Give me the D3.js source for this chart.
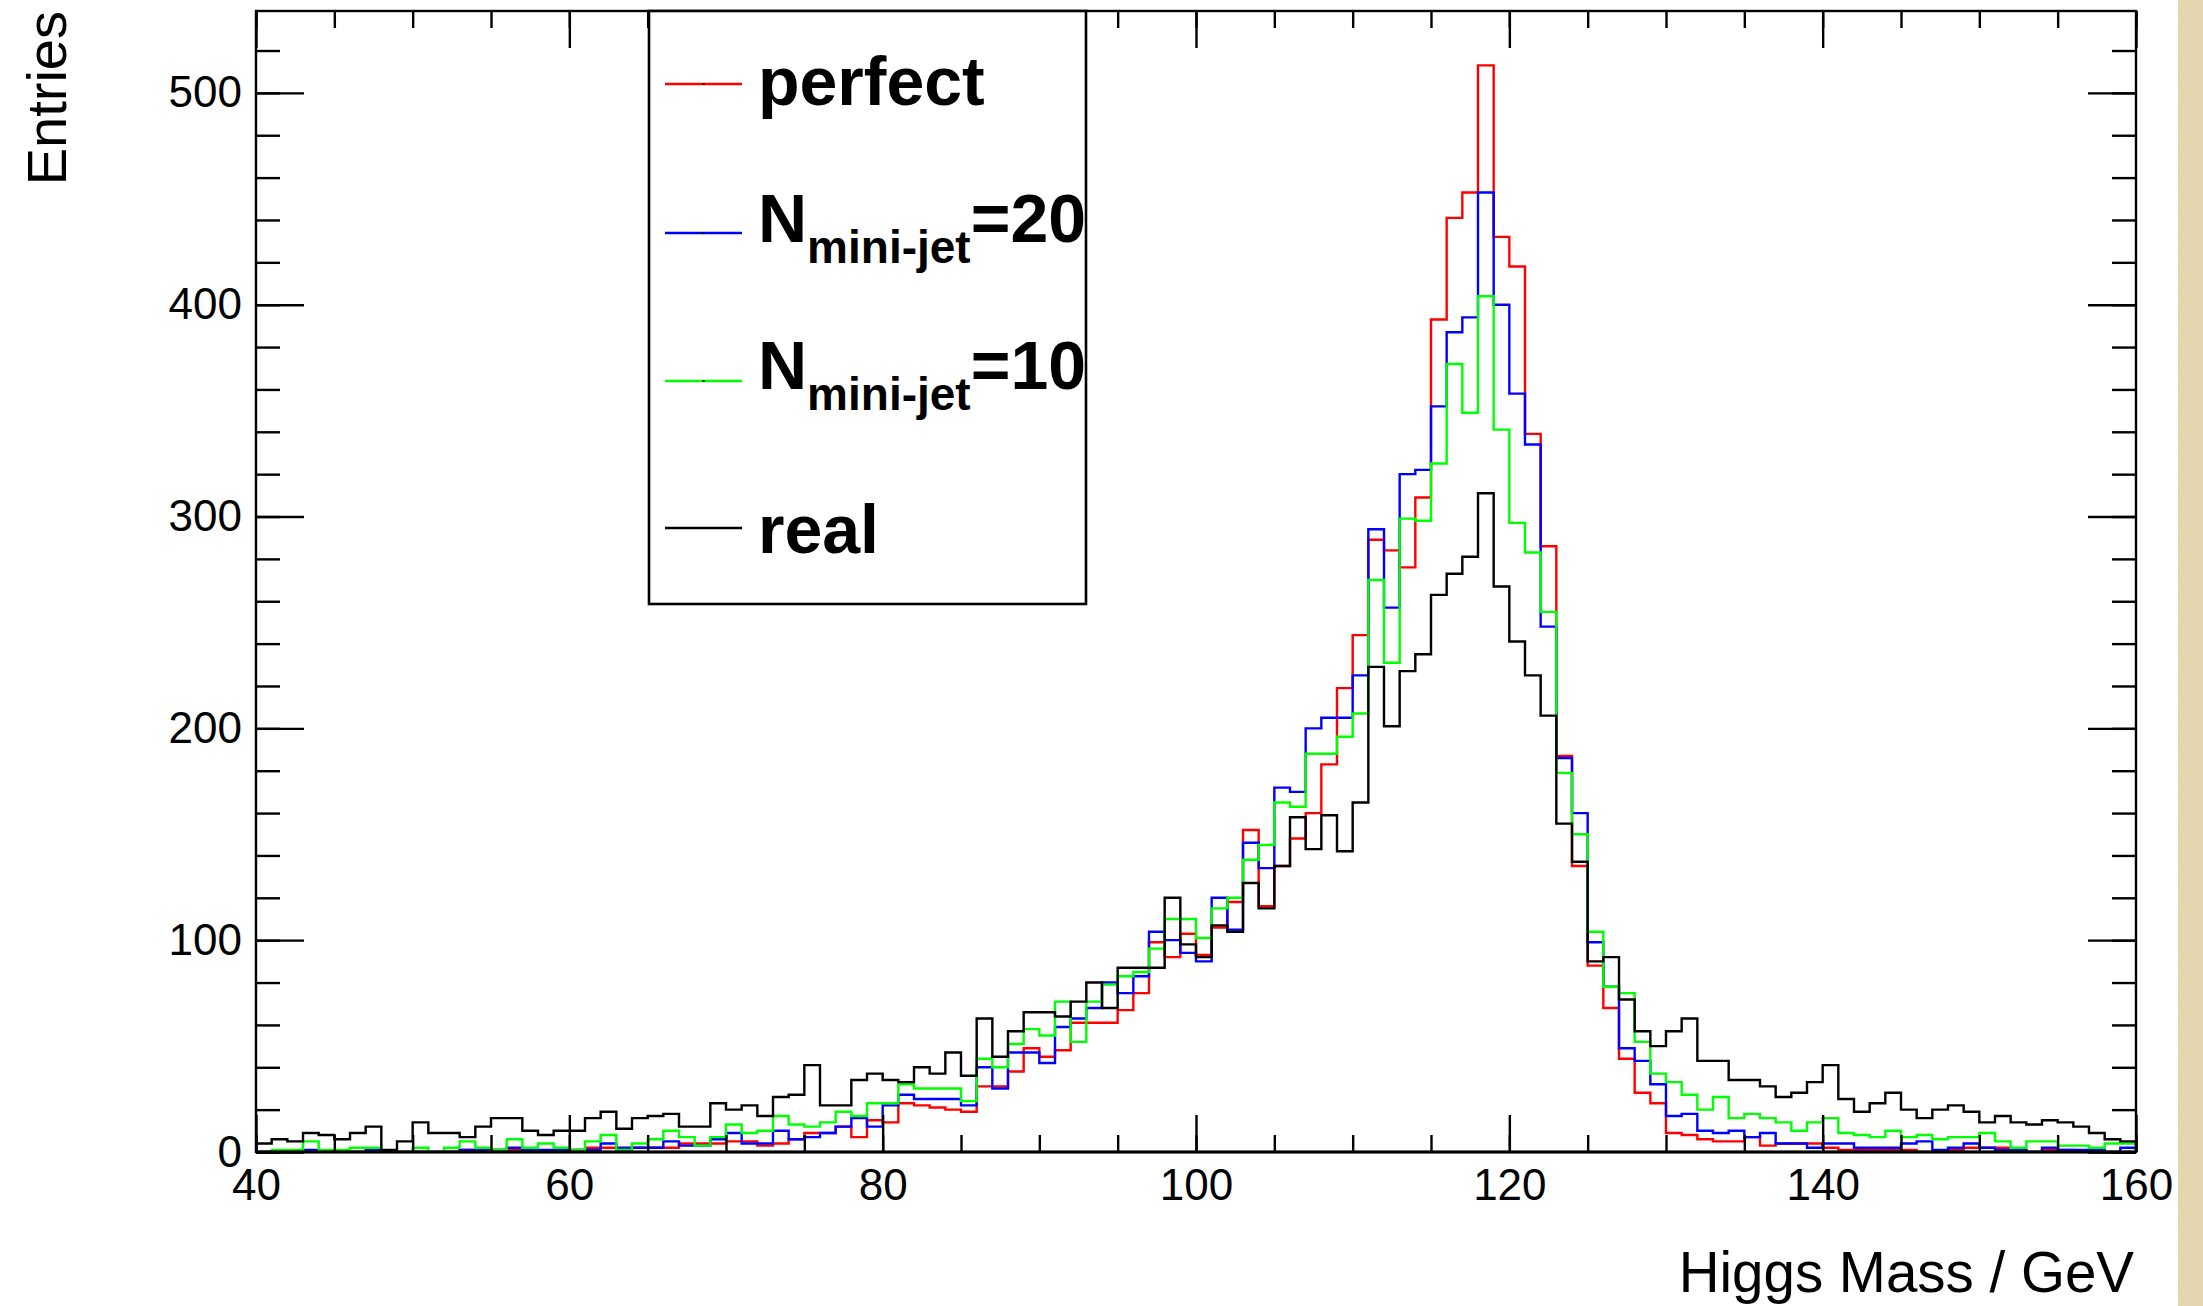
<!DOCTYPE html>
<html>
<head>
<meta charset="utf-8">
<script src="https://cdn.jsdelivr.net/npm/d3@7"></script>
<style>
  html, body { margin: 0; padding: 0; background: #fff; }
  svg { display: block; }
</style>
</head>
<body>
<svg id="chart" width="2203" height="1306"></svg>
<script>
// Reconstructed Higgs mass, 1 GeV bins from 40 to 160 GeV
const massLow = 40;
const massHigh = 160;
const binWidth = 1;

const perfect = [
  0, 0, 0, 0, 0, 0, 0, 0, 0, 0,
  0, 0, 0, 1, 1, 1, 1, 1, 0, 0,
  1, 2, 2, 1, 2, 2, 2, 4, 4, 4,
  5, 5, 3, 4, 6, 9, 9, 12, 7, 15,
  14, 23, 22, 21, 20, 19, 31, 31, 38, 49,
  45, 48, 61, 61, 61, 67, 75, 99, 92, 103,
  93, 106, 118, 152, 116, 135, 148, 160, 183, 219,
  244, 289, 284, 276, 309, 393, 441, 453, 513, 432,
  418, 339, 286, 187, 135, 88, 68, 44, 28, 23,
  9, 8, 6, 5, 5, 7, 3, 4, 4, 4,
  2, 1, 1, 1, 1, 1, 0, 0, 1, 2,
  2, 2, 1, 0, 1, 1, 0, 0, 0, 0
];

const miniJet20 = [
  0, 0, 0, 1, 0, 0, 0, 1, 0, 0,
  0, 0, 0, 1, 1, 1, 2, 1, 1, 1,
  1, 1, 4, 2, 2, 2, 5, 3, 3, 6,
  9, 4, 4, 10, 6, 7, 9, 12, 16, 12,
  22, 27, 25, 25, 25, 22, 40, 30, 47, 47,
  42, 59, 63, 68, 80, 75, 83, 104, 100, 94,
  90, 120, 105, 146, 134, 172, 170, 200, 205, 205,
  225, 294, 257, 320, 322, 352, 387, 394, 453, 400,
  358, 334, 248, 186, 160, 99, 78, 49, 43, 32,
  17, 18, 10, 9, 10, 7, 9, 4, 4, 2,
  4, 4, 2, 2, 2, 4, 5, 1, 2, 4,
  2, 1, 1, 0, 2, 1, 1, 1, 0, 2
];

const miniJet10 = [
  0, 1, 1, 5, 1, 1, 2, 2, 0, 0,
  2, 0, 2, 5, 2, 1, 6, 2, 4, 2,
  1, 5, 8, 1, 4, 6, 10, 7, 3, 7,
  13, 9, 10, 17, 13, 12, 14, 19, 17, 23,
  23, 32, 30, 30, 30, 24, 44, 40, 51, 58,
  55, 71, 52, 71, 79, 83, 85, 96, 110, 110,
  101, 115, 120, 138, 145, 165, 163, 188, 188, 196,
  207, 270, 231, 299, 298, 325, 372, 349, 404, 341,
  297, 283, 255, 179, 150, 104, 78, 75, 52, 37,
  33, 27, 20, 26, 16, 18, 16, 14, 10, 14,
  16, 9, 8, 7, 10, 7, 8, 6, 7, 7,
  9, 5, 2, 5, 5, 3, 3, 2, 4, 4
];

const real = [
  4, 6, 5, 9, 8, 6, 9, 12, 1, 5,
  14, 9, 9, 7, 12, 16, 16, 10, 8, 10,
  10, 16, 19, 11, 16, 17, 18, 12, 12, 23,
  20, 22, 17, 26, 27, 41, 22, 22, 34, 37,
  34, 33, 40, 37, 47, 36, 63, 45, 57, 66,
  66, 64, 71, 80, 68, 87, 87, 87, 120, 98,
  92, 107, 104, 127, 115, 135, 158, 143, 159, 142,
  165, 229, 201, 227, 235, 263, 273, 281, 311, 267,
  241, 225, 206, 155, 137, 90, 92, 72, 57, 50,
  57, 63, 43, 43, 34, 34, 31, 26, 28, 33,
  41, 25, 19, 23, 28, 20, 16, 20, 22, 19,
  14, 17, 14, 13, 15, 14, 12, 9, 6, 5
];

const xLabelTicks = [40, 60, 80, 100, 120, 140, 160];
const xMinorTicks = [40, 45, 50, 55, 60, 65, 70, 75, 80, 85, 90, 95, 100,
                     105, 110, 115, 120, 125, 130, 135, 140, 145, 150, 155, 160];
const yLabelTicks = [0, 100, 200, 300, 400, 500];
const yMinorTicks = [0, 20, 40, 60, 80, 100, 120, 140, 160, 180, 200, 220, 240, 260,
                     280, 300, 320, 340, 360, 380, 400, 420, 440, 460, 480, 500, 520];

const seriesNames = ["perfect", "N20", "N10", "real"];
const seriesValues = [perfect, miniJet20, miniJet10, real];
const seriesColors = ["#ff0000", "#0000ff", "#00ff00", "#000000"];

// ---- layout ----
const W = 2203, H = 1306;
const plot = { left: 256, right: 2136, top: 11, bottom: 1152 };
const FONT = "'Liberation Sans', Arial, Helvetica, sans-serif";

const svg = d3.select("#chart");
svg.append("rect").attr("width", W).attr("height", H).attr("fill", "#ffffff");

const defs = svg.append("defs");

// paper edge on the right
const grain = defs.append("filter").attr("id", "grain")
  .attr("x", 0).attr("y", 0).attr("width", "100%").attr("height", "100%");
grain.append("feTurbulence").attr("type", "fractalNoise")
  .attr("baseFrequency", 0.9).attr("numOctaves", 2).attr("seed", 4).attr("result", "n");
grain.append("feColorMatrix").attr("in", "n").attr("type", "matrix")
  .attr("values", "0 0 0 0 0.62  0 0 0 0 0.52  0 0 0 0 0.32  0 0 0 0.55 0");
svg.append("rect").attr("x", 2178).attr("y", 0).attr("width", W - 2178).attr("height", H)
  .attr("fill", "#e8d9b2");
svg.append("rect").attr("x", 2178).attr("y", 0).attr("width", W - 2178).attr("height", H)
  .attr("filter", "url(#grain)").attr("opacity", 0.45);

defs.append("clipPath").attr("id", "plotClip")
  .append("rect")
  .attr("x", plot.left).attr("y", plot.top)
  .attr("width", plot.right - plot.left).attr("height", plot.bottom - plot.top);

// ---- scales ----
const x = d3.scaleLinear().domain([massLow, massHigh]).range([plot.left, plot.right]);
const yMax = d3.max(seriesValues.flat()) * 1.05;
const y = d3.scaleLinear().domain([0, yMax]).range([plot.bottom, plot.top]);

// ---- histogram outlines ----
function stepPoints(values) {
  const pts = [[massLow, 0]];
  values.forEach((v, i) => {
    pts.push([massLow + i * binWidth, v]);
    pts.push([massLow + (i + 1) * binWidth, v]);
  });
  pts.push([massLow + values.length * binWidth, 0]);
  return pts;
}
const stepLine = d3.line().x(d => x(d[0])).y(d => y(d[1]));

const histG = svg.append("g").attr("clip-path", "url(#plotClip)");
seriesValues.forEach((vals, k) => {
  histG.append("path")
    .attr("class", "hist " + seriesNames[k])
    .attr("d", stepLine(stepPoints(vals)))
    .attr("fill", "none")
    .attr("stroke", seriesColors[k])
    .attr("stroke-width", 2.4)
    .attr("stroke-linejoin", "miter");
});

// ---- axes (ticks drawn on all four sides, pointing inward) ----
function styleAxis(g) {
  g.select(".domain").remove();
  g.selectAll(".tick line").attr("stroke", "#000").attr("stroke-width", 2.4);
  g.selectAll(".tick text").attr("fill", "#000");
}

svg.append("g").attr("transform", `translate(${plot.left},0)`)
  .call(d3.axisLeft(y).tickValues(yMinorTicks).tickSize(-24).tickSizeOuter(0).tickFormat(""))
  .call(styleAxis);
svg.append("g").attr("transform", `translate(${plot.left},0)`)
  .call(d3.axisLeft(y).tickValues(yLabelTicks).tickSize(-48).tickSizeOuter(0).tickPadding(14)
    .tickFormat(d3.format("d")))
  .call(styleAxis)
  .selectAll(".tick text")
  .attr("font-family", FONT).attr("font-size", 44);

svg.append("g").attr("transform", `translate(${plot.right},0)`)
  .call(d3.axisRight(y).tickValues(yMinorTicks).tickSize(-24).tickSizeOuter(0).tickFormat(""))
  .call(styleAxis);
svg.append("g").attr("transform", `translate(${plot.right},0)`)
  .call(d3.axisRight(y).tickValues(yLabelTicks).tickSize(-48).tickSizeOuter(0).tickFormat(""))
  .call(styleAxis);

svg.append("g").attr("transform", `translate(0,${plot.bottom})`)
  .call(d3.axisBottom(x).tickValues(xMinorTicks).tickSize(-17).tickSizeOuter(0).tickFormat(""))
  .call(styleAxis);
svg.append("g").attr("transform", `translate(0,${plot.bottom})`)
  .call(d3.axisBottom(x).tickValues(xLabelTicks).tickSize(-37).tickSizeOuter(0).tickPadding(17)
    .tickFormat(d3.format("d")))
  .call(styleAxis)
  .selectAll(".tick text")
  .attr("font-family", FONT).attr("font-size", 44);

svg.append("g").attr("transform", `translate(0,${plot.top})`)
  .call(d3.axisTop(x).tickValues(xMinorTicks).tickSize(-17).tickSizeOuter(0).tickFormat(""))
  .call(styleAxis);
svg.append("g").attr("transform", `translate(0,${plot.top})`)
  .call(d3.axisTop(x).tickValues(xLabelTicks).tickSize(-37).tickSizeOuter(0).tickFormat(""))
  .call(styleAxis);

// frame
svg.append("rect")
  .attr("x", plot.left).attr("y", plot.top)
  .attr("width", plot.right - plot.left).attr("height", plot.bottom - plot.top)
  .attr("fill", "none").attr("stroke", "#000").attr("stroke-width", 2.4);
svg.append("line")
  .attr("x1", plot.left).attr("x2", plot.right)
  .attr("y1", plot.bottom).attr("y2", plot.bottom)
  .attr("stroke", "#000").attr("stroke-width", 3.2);

// axis titles
svg.append("text")
  .attr("transform", "translate(66,11) rotate(-90)")
  .attr("text-anchor", "end")
  .attr("font-family", FONT).attr("font-size", 56)
  .text("Entries");
svg.append("text")
  .attr("x", 2134).attr("y", 1292)
  .attr("text-anchor", "end")
  .attr("font-family", FONT).attr("font-size", 56.5)
  .text("Higgs Mass / GeV");

// ---- legend ----
const legendBox = { x: 649, y: 11, w: 437, h: 593 };
defs.append("clipPath").attr("id", "legendClip")
  .append("rect")
  .attr("x", legendBox.x).attr("y", legendBox.y)
  .attr("width", legendBox.w).attr("height", legendBox.h);

const legend = svg.append("g");
legend.append("rect")
  .attr("x", legendBox.x).attr("y", legendBox.y)
  .attr("width", legendBox.w).attr("height", legendBox.h)
  .attr("fill", "#fff");

const legendLineY = [84, 233, 381, 528];
const legendTextY = [105, 242, 389, 553];
const legendLabels = [
  [{ t: "perfect" }],
  [{ t: "N" }, { t: "mini-jet", sub: true }, { t: "=20" }],
  [{ t: "N" }, { t: "mini-jet", sub: true }, { t: "=10" }],
  [{ t: "real" }]
];

const legendItems = legend.append("g").attr("clip-path", "url(#legendClip)");
legendLabels.forEach((parts, k) => {
  legendItems.append("line")
    .attr("x1", 665).attr("x2", 742)
    .attr("y1", legendLineY[k]).attr("y2", legendLineY[k])
    .attr("stroke", seriesColors[k]).attr("stroke-width", 2.4);
  legendItems.append("rect")
    .attr("x", 702.5).attr("y", legendLineY[k] - 1)
    .attr("width", 2).attr("height", 2).attr("fill", "#000");
  const txt = legendItems.append("text")
    .attr("x", 758).attr("y", legendTextY[k])
    .attr("font-family", FONT).attr("font-weight", "bold").attr("font-size", 68);
  let shifted = false;
  parts.forEach(p => {
    const ts = txt.append("tspan").text(p.t);
    if (p.sub) { ts.attr("font-size", 46).attr("dy", 21); shifted = true; }
    else if (shifted) { ts.attr("dy", -21); shifted = false; }
  });
});

legend.append("rect")
  .attr("x", legendBox.x).attr("y", legendBox.y)
  .attr("width", legendBox.w).attr("height", legendBox.h)
  .attr("fill", "none").attr("stroke", "#000").attr("stroke-width", 2.6);
</script>
</body>
</html>
